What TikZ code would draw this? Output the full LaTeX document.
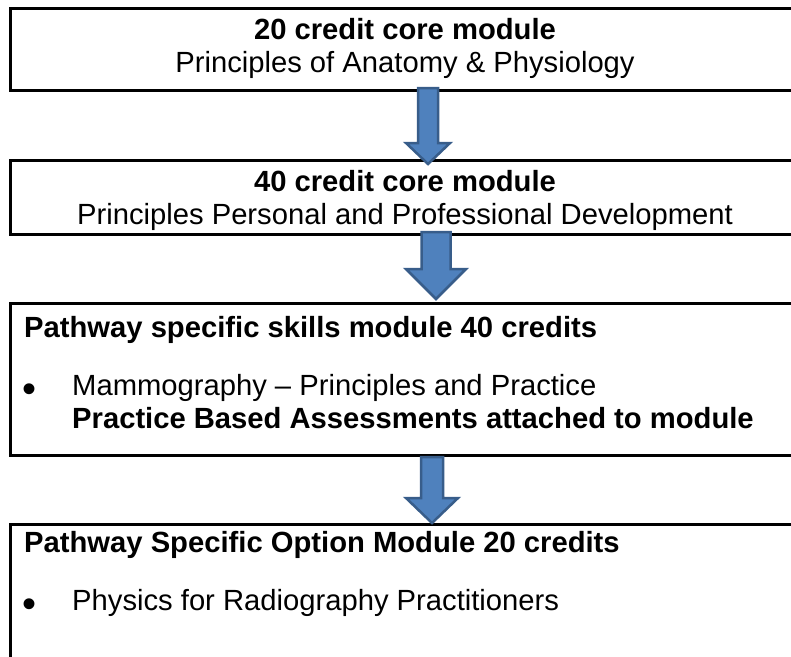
\documentclass[tikz,border=0pt]{standalone}
\usepackage{fontspec}
\setmainfont{Liberation Sans}
\usetikzlibrary{calc}
\definecolor{arrowfill}{HTML}{4F81BD}
\definecolor{arrowline}{HTML}{385D8A}
\tikzset{
  box/.style={draw=black, line width=3pt, anchor=north west, inner sep=0pt, fill=none},
  txt/.style={inner sep=0pt, font=\fontsize{29.2}{33}\selectfont, text=black},
  bul/.style={inner sep=0pt, font=\fontsize{40}{40}\selectfont, text=black},
  blockarrow/.style={fill=arrowfill, draw=arrowline, line width=2.5pt, line join=miter},
}
\newcommand\blkarrow[5]{%
  \draw[blockarrow] let \p1=(#1), \p2=(#2) in
    (\x1-#3pt,\y1) -- (\x1+#3pt,\y1) -- (\x1+#3pt,\y2+#5pt) -- (\x1+#4pt,\y2+#5pt)
    -- (\x2,\y2) -- (\x1-#4pt,\y2+#5pt) -- (\x1-#3pt,\y2+#5pt) -- cycle;}
\begin{document}
\begin{tikzpicture}[x=1pt,y=1pt]
\useasboundingbox (0,0) rectangle (791,-656);
\clip (0,0) rectangle (791,-656);
\fill[white] (0,0) rectangle (791,-656);
% boxes
\node[box, minimum width=796pt, minimum height=82pt] (b1) at (9,-7) {};
\node[box, minimum width=796pt, minimum height=74pt] (b2) at (9,-159) {};
\node[box, minimum width=796pt, minimum height=152pt] (b3) at (9,-302) {};
\node[box, minimum width=796pt, minimum height=160pt] (b4) at (9,-523) {};
% box 1 text
\node[txt, anchor=base] (t1a) at (405,-39) {\bfseries 20 credit core module};
\node[txt, anchor=base] (t1b) at (405,-72) {Principles of Anatomy \& Physiology};
% box 2 text
\node[txt, anchor=base] (t2a) at (405,-191) {\bfseries 40 credit core module};
\node[txt, anchor=base] (t2b) at (405,-224) {Principles Personal and Professional Development};
% box 3 text
\node[txt, anchor=base west] (t3a) at (24,-337) {\bfseries Pathway specific skills module 40 credits};
\node[bul, anchor=base west] (t3bul) at (22,-402) {•};
\node[txt, anchor=base west] (t3b) at (72,-395) {Mammography – Principles and Practice};
\node[txt, anchor=base west] (t3c) at (72,-428) {\bfseries Practice Based Assessments attached to module};
% box 4 text
\node[txt, anchor=base west] (t4a) at (24,-552) {\bfseries Pathway Specific Option Module 20 credits};
\node[bul, anchor=base west] (t4bul) at (22,-617) {•};
\node[txt, anchor=base west] (t4b) at (72,-610) {Physics for Radiography Practitioners};
% arrows
\coordinate (a1s) at (428,-88);
\coordinate (a1e) at (428,-164);
\coordinate (a2s) at (436,-232);
\coordinate (a2e) at (436,-299);
\coordinate (a3s) at (432,-457);
\coordinate (a3e) at (432,-523);
\blkarrow{a1s}{a1e}{10}{22}{21}
\blkarrow{a2s}{a2e}{14.5}{30}{30}
\blkarrow{a3s}{a3e}{11}{26}{25}
\end{tikzpicture}
\end{document}
